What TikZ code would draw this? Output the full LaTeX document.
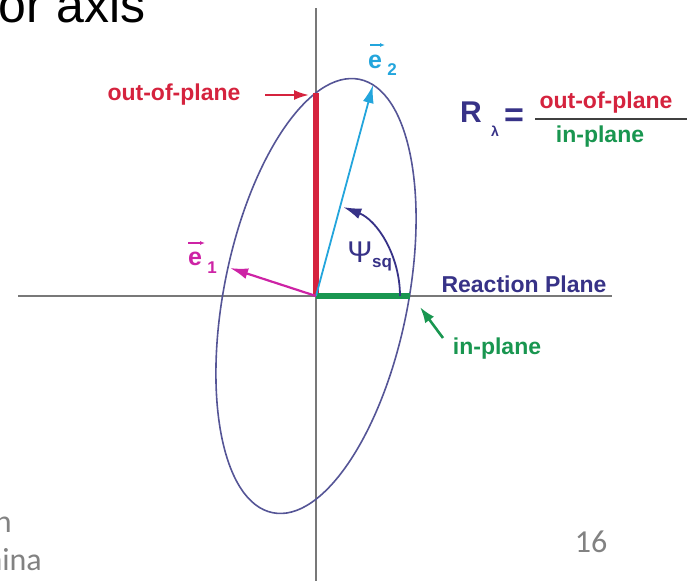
\documentclass[tikz,border=0pt]{standalone}
\usepackage{fontspec}
\setmainfont{Liberation Sans}
\newfontfamily\footfont{Carlito}
\usetikzlibrary{arrows.meta}
\definecolor{redc}{RGB}{213,35,62}
\definecolor{greenc}{RGB}{25,150,80}
\definecolor{cyanc}{RGB}{35,165,220}
\definecolor{magc}{RGB}{205,35,165}
\definecolor{bluec}{RGB}{55,50,135}
\definecolor{ellc}{RGB}{85,85,150}
\definecolor{axisc}{RGB}{120,120,120}
\definecolor{footc}{RGB}{130,130,130}
\begin{document}
\begin{tikzpicture}[x=1pt,y=1pt,
  lab/.style={font=\fontsize{23}{26}\selectfont\bfseries, inner sep=0pt},
  subl/.style={font=\fontsize{17}{19}\selectfont\bfseries, inner sep=0pt},
  axisline/.style={draw=axisc, line width=2pt},
  head/.style={-{Latex[length=18pt,width=11pt]}},
  smallhead/.style={-{Latex[length=5pt,width=4pt]}, line width=1.5pt}]
\useasboundingbox (0,0) rectangle (689,-581);
\clip (0,0) rectangle (689,-581);
% coordinates
\coordinate (O) at (316,-296);
\coordinate (vtop) at (316,-8);
\coordinate (vbot) at (316,-581);
\coordinate (hl) at (18,-296);
\coordinate (hr) at (612,-296);
\coordinate (redtop) at (316,-93);
\coordinate (greenend) at (410,-296);
\coordinate (e2tip) at (373,-85);
\coordinate (e1tip) at (230,-268);
\coordinate (psistart) at (400,-296);
% title and footer
\node[anchor=base west, inner sep=0pt, font=\fontsize{50}{56}\selectfont] (title) at (-2,-22) {or axis};
\node[anchor=base east, inner sep=0pt, text=footc, font=\footfont\fontsize{32}{36}\selectfont] (foot1) at (12,-532) {n};
\node[anchor=base east, inner sep=0pt, text=footc, font=\footfont\fontsize{32}{36}\selectfont] (foot2) at (42,-570) {hina};
\node[anchor=base, inner sep=0pt, text=footc, font=\footfont\fontsize{32}{36}\selectfont] (pagenum) at (591,-552) {16};
% axes
\draw[axisline] (vtop) -- (vbot);
\draw[axisline] (hl) -- (hr);
% ellipse
\draw[draw=ellc, line width=1.6pt, rotate around={78.7:(O)}] (O) ellipse [x radius=221pt, y radius=92pt];
% components
\draw[redc, line width=6.5pt] (O) -- (redtop);
\draw[greenc, line width=6pt] (O) -- (greenend);
\draw[cyanc, line width=1.8pt, head] (O) -- (e2tip);
\draw[magc, line width=2.2pt, head] (O) -- (e1tip);
\draw[bluec, line width=1.8pt, head] (psistart) arc [start angle=0, end angle=71, x radius=84pt, y radius=94pt];
% labels
\node[lab, text=redc] (outlab) at (174,-95) {out-of-plane};
\coordinate (outS) at (265,-95);
\coordinate (outT) at (309,-95);
\draw[redc, line width=2.2pt, -{Latex[length=15pt,width=10pt]}] (outS) -- (outT);
\node[lab, text=bluec] (rp) at (524,-284) {Reaction Plane};
\node[lab, text=greenc] (inlab) at (497,-349) {in-plane};
\coordinate (inS) at (443,-338);
\coordinate (inT) at (420,-307);
\draw[greenc, line width=2.6pt, -{Latex[length=16pt,width=11pt]}] (inS) -- (inT);
% e2
\node[inner sep=0pt, text=cyanc, font=\fontsize{25}{28}\selectfont\bfseries] (e2e) at (375,-62) {e};
\node[subl, text=cyanc] (e2s) at (392,-70) {2};
\coordinate (e2aS) at (370,-45);
\coordinate (e2aT) at (385,-45);
\draw[cyanc, smallhead] (e2aS) -- (e2aT);
% e1
\node[inner sep=0pt, text=magc, font=\fontsize{25}{28}\selectfont\bfseries] (e1e) at (195,-259) {e};
\node[subl, text=magc] (e1s) at (212,-268) {1};
\coordinate (e1aS) at (188,-243);
\coordinate (e1aT) at (205,-243);
\draw[magc, smallhead] (e1aS) -- (e1aT);
% psi
\node[inner sep=0pt, text=bluec, font=\fontsize{30}{34}\selectfont] (psi) at (360,-252) {Ψ};
\node[subl, text=bluec] (psisub) at (382,-265) {sq};
% formula
\node[inner sep=0pt, text=bluec, font=\fontsize{30}{34}\selectfont\bfseries] (R) at (471,-112) {R};
\node[inner sep=0pt, text=bluec, font=\fontsize{14}{16}\selectfont\bfseries] (lam) at (495,-131) {λ};
\node[inner sep=0pt, text=bluec, font=\fontsize{34}{38}\selectfont\bfseries] (eq) at (514,-118) {=};
\node[lab, text=redc] (num) at (606,-103) {out-of-plane};
\node[lab, text=greenc] (den) at (600,-137) {in-plane};
\coordinate (fl) at (535,-119);
\coordinate (fr) at (687,-119);
\draw[black!75, line width=2pt] (fl) -- (fr);
\end{tikzpicture}
\end{document}
